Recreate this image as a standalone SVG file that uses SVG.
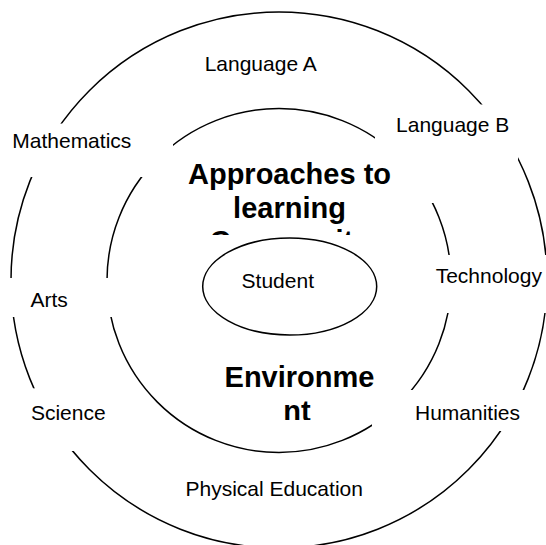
<svg xmlns="http://www.w3.org/2000/svg" width="546" height="545" viewBox="0 0 546 545">
<style>
.ring{fill:none;stroke:#000;stroke-width:1.5}
.box{fill:#fff;stroke:none}
.lbl{font-family:"Liberation Sans",Arial,sans-serif;font-size:21px;fill:#000;text-anchor:middle}
.big{font-family:"Liberation Sans",Arial,sans-serif;font-size:29px;font-weight:bold;fill:#000;text-anchor:middle}
</style>
<defs>
<clipPath id="clipA"><rect x="145" y="140" width="288" height="95"/></clipPath>
<clipPath id="clipE"><rect x="200" y="345" width="200" height="75"/></clipPath>
</defs>
<g id="rings">
<circle id="outer" class="ring" cx="279" cy="280" r="268"/>
<circle id="inner" class="ring" cx="279" cy="280.5" r="172"/>
</g>
<g id="languageA">
<text class="lbl" x="260.7" y="71">Language A</text>
</g>
<g id="mathematics">
<rect class="box" x="0" y="123.6" width="173" height="53.4"/>
<text class="lbl" x="71.8" y="147.7">Mathematics</text>
</g>
<g id="languageB">
<rect class="box" x="375" y="104.5" width="143" height="98.5"/>
<text class="lbl" x="452.7" y="131.7">Language B</text>
</g>
<g id="arts">
<rect class="box" x="0" y="278" width="118" height="39"/>
<text class="lbl" x="49.2" y="306.7">Arts</text>
</g>
<g id="technology">
<rect class="box" x="430" y="255" width="116" height="58"/>
<text class="lbl" x="488.8" y="283.3">Technology</text>
</g>
<g id="science">
<rect class="box" x="0" y="388.3" width="136" height="62.7"/>
<text class="lbl" x="68.3" y="420">Science</text>
</g>
<g id="humanities">
<rect class="box" x="372" y="390" width="174" height="41"/>
<text class="lbl" x="467.5" y="420">Humanities</text>
</g>
<g id="physical">
<text class="lbl" x="274.2" y="496">Physical Education</text>
</g>
<g id="approaches">
<g clip-path="url(#clipA)">
<text class="big" x="289.5" y="184.3">Approaches to</text>
<text class="big" x="289.5" y="217.5">learning</text>
<text class="big" x="289.5" y="251">Community</text>
</g>
</g>
<g id="environment">
<g clip-path="url(#clipE)">
<text class="big" x="299.5" y="387">Environme</text>
<text class="big" x="297" y="421">nt</text>
</g>
</g>
<g id="student">
<ellipse cx="289.7" cy="286.5" rx="87" ry="48.5" fill="#fff" stroke="#000" stroke-width="1.5"/>
<text class="lbl" x="277.8" y="288.3">Student</text>
</g>
</svg>
